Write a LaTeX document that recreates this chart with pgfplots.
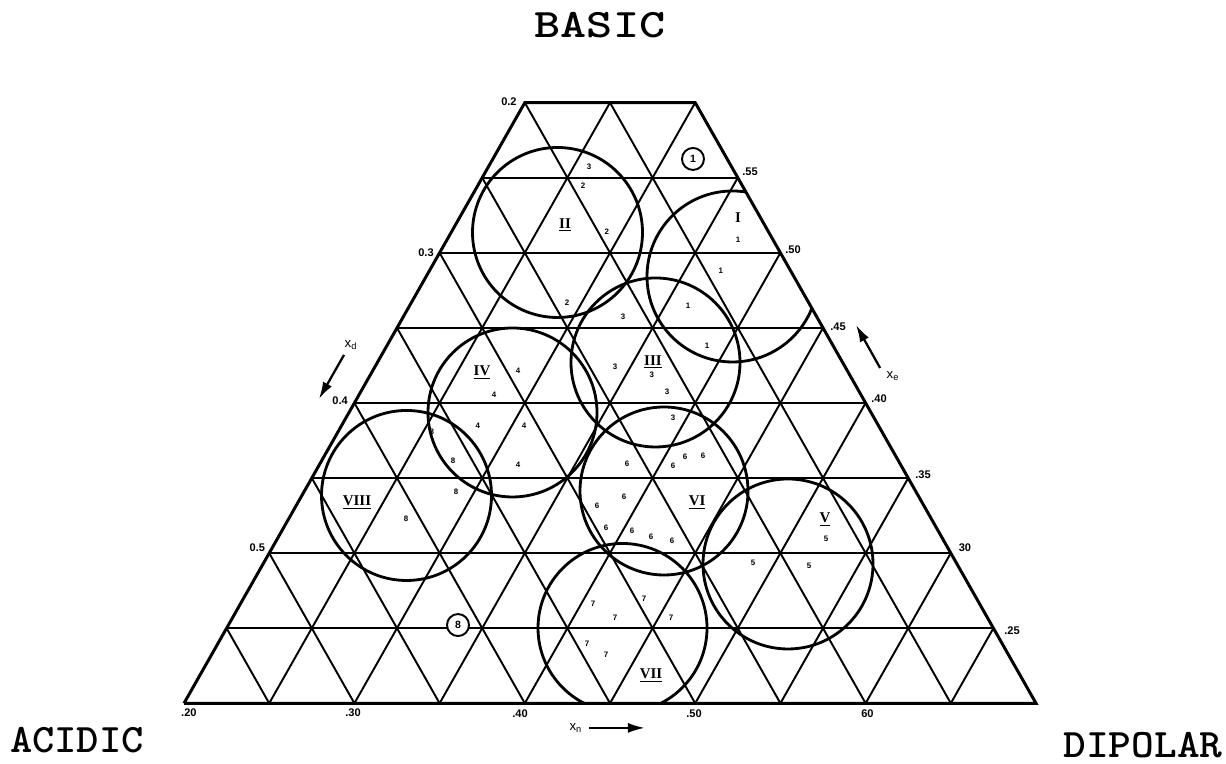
\documentclass[border=0pt]{standalone}
\usepackage{fontspec}
\setmainfont{Liberation Serif}
\newfontfamily\labsans{Liberation Sans}
\usepackage{graphicx}
\usepackage{pgfplots}
\usepackage{pgfplotstable}
\pgfplotsset{compat=1.18}
\usetikzlibrary{arrows.meta}

% solvent points: x_n (horizontal), x_e (row level), selectivity group
\pgfplotstableread{
x y g
0.4377 0.5572 3
0.4342 0.5445 2
0.4482 0.5139 2
0.4248 0.4666 2
0.4576 0.4573 3
0.4529 0.4240 3
0.4746 0.4186 3
0.4835 0.4073 3
0.4870 0.3900 3
0.5251 0.5085 1
0.5151 0.4879 1
0.4958 0.4646 1
0.5069 0.4379 1
0.3960 0.4213 4
0.3819 0.4053 4
0.3725 0.3847 4
0.3995 0.3847 4
0.3960 0.3587 4
0.3455 0.3807 8
0.3579 0.3614 8
0.3596 0.3407 8
0.3303 0.3227 8
0.4600 0.3594 6
0.4870 0.3580 6
0.4940 0.3640 6
0.5046 0.3647 6
0.4582 0.3374 6
0.4424 0.3314 6
0.4477 0.3167 6
0.4629 0.3147 6
0.4741 0.3108 6
0.4864 0.3081 6
0.5768 0.3094 5
0.5339 0.2934 5
0.5668 0.2914 5
0.4700 0.2695 7
0.4400 0.2661 7
0.4529 0.2568 7
0.4858 0.2568 7
0.4365 0.2395 7
0.4477 0.2322 7
}\solvents

\tikzset{
  gridln/.style={black, line width=1.1pt},
  tick/.style={font=\labsans\bfseries\fontsize{6.3}{7}\selectfont, inner sep=0pt},
  roman/.style={font=\rmfamily\bfseries\fontsize{8.5}{9}\selectfont, inner sep=0pt},
  corner/.style={font=\ttfamily\bfseries\fontsize{23}{25}\selectfont, inner sep=0pt},
}

\begin{document}
\begin{tikzpicture}
\begin{axis}[
  scale only axis, width=245.2mm, height=152.8mm,
  xmin=0.09202, xmax=0.81150, ymin=0.159576, ymax=0.668367,
  hide axis, clip=false,
]
\path (rel axis cs:0,0) rectangle (rel axis cs:1,1);

% horizontal rows
\addplot[gridln] coordinates {(0.225,0.25) (0.675,0.25)};
\addplot[gridln] coordinates {(0.250,0.30) (0.650,0.30)};
\addplot[gridln] coordinates {(0.275,0.35) (0.625,0.35)};
\addplot[gridln] coordinates {(0.300,0.40) (0.600,0.40)};
\addplot[gridln] coordinates {(0.325,0.45) (0.575,0.45)};
\addplot[gridln] coordinates {(0.350,0.50) (0.550,0.50)};
\addplot[gridln] coordinates {(0.375,0.55) (0.525,0.55)};
% rising lines
\addplot[gridln] coordinates {(0.25,0.2) (0.450,0.60)};
\addplot[gridln] coordinates {(0.30,0.2) (0.500,0.60)};
\addplot[gridln] coordinates {(0.35,0.2) (0.525,0.55)};
\addplot[gridln] coordinates {(0.40,0.2) (0.550,0.50)};
\addplot[gridln] coordinates {(0.45,0.2) (0.575,0.45)};
\addplot[gridln] coordinates {(0.50,0.2) (0.600,0.40)};
\addplot[gridln] coordinates {(0.55,0.2) (0.625,0.35)};
\addplot[gridln] coordinates {(0.60,0.2) (0.650,0.30)};
\addplot[gridln] coordinates {(0.65,0.2) (0.675,0.25)};
% falling lines
\addplot[gridln] coordinates {(0.25,0.2) (0.225,0.25)};
\addplot[gridln] coordinates {(0.30,0.2) (0.250,0.30)};
\addplot[gridln] coordinates {(0.35,0.2) (0.275,0.35)};
\addplot[gridln] coordinates {(0.40,0.2) (0.300,0.40)};
\addplot[gridln] coordinates {(0.45,0.2) (0.325,0.45)};
\addplot[gridln] coordinates {(0.50,0.2) (0.350,0.50)};
\addplot[gridln] coordinates {(0.55,0.2) (0.375,0.55)};
\addplot[gridln] coordinates {(0.60,0.2) (0.400,0.60)};
\addplot[gridln] coordinates {(0.65,0.2) (0.450,0.60)};

% group regions, cut at the frame
\begin{scope}
\clip (axis cs:0.2,0.2) -- (axis cs:0.7,0.2) -- (axis cs:0.5,0.6) -- (axis cs:0.4,0.6) -- cycle;
\draw[line width=1.6pt] (axis cs:0.52189,0.48423) circle[radius=17.1mm];
\draw[line width=1.6pt] (axis cs:0.41919,0.51353) circle[radius=17mm];
\draw[line width=1.6pt] (axis cs:0.47670,0.42696) circle[radius=16.9mm];
\draw[line width=1.6pt] (axis cs:0.39278,0.39366) circle[radius=16.9mm];
\draw[line width=1.6pt] (axis cs:0.55446,0.29277) circle[radius=17mm];
\draw[line width=1.6pt] (axis cs:0.48169,0.34138) circle[radius=16.8mm];
\draw[line width=1.6pt] (axis cs:0.45734,0.25015) circle[radius=16.9mm];
\draw[line width=1.6pt] (axis cs:0.33058,0.33839) circle[radius=17mm];
\end{scope}

% frame
\addplot[black, line width=1.7pt] coordinates {(0.2,0.2) (0.7,0.2) (0.5,0.6) (0.4,0.6) (0.2,0.2)};

% solvents
\addplot[only marks, mark=none, nodes near coords, point meta=explicit symbolic,
  nodes near coords style={font=\labsans\bfseries\fontsize{4.5}{5}\selectfont, anchor=center, inner sep=0pt}]
  table[x=x, y=y, meta=g] {\solvents};

% group numerals
\node[roman] at (axis cs:0.5251,0.5232) {I};
\node[roman] at (axis cs:0.4236,0.5185) {\underline{II}};
\node[roman] at (axis cs:0.4752,0.4273) {\underline{III}};
\node[roman] at (axis cs:0.3749,0.4200) {\underline{IV}};
\node[roman] at (axis cs:0.5762,0.3221) {\underline{V}};
\node[roman] at (axis cs:0.5011,0.3334) {\underline{VI}};
\node[roman] at (axis cs:0.4741,0.2182) {\underline{VII}};
\node[roman] at (axis cs:0.3015,0.3334) {\underline{VIII}};

% circled reference solvents
\node[draw, circle, line width=1.1pt, minimum size=4.4mm, inner sep=0pt, fill=white,
  font=\labsans\bfseries\fontsize{6}{7}\selectfont] at (axis cs:0.4987,0.5625) {1};
\node[draw, circle, line width=1.1pt, minimum size=4.4mm, inner sep=0pt, fill=white,
  font=\labsans\bfseries\fontsize{6}{7}\selectfont] at (axis cs:0.3608,0.2521) {8};

% edge scales
\node[tick] at (axis cs:0.3907,0.6004) {0.2};
\node[tick] at (axis cs:0.3420,0.4999) {0.3};
\node[tick] at (axis cs:0.2916,0.4013) {0.4};
\node[tick] at (axis cs:0.2431,0.3034) {0.5};
\node[tick] at (axis cs:0.5322,0.5538) {.55};
\node[tick] at (axis cs:0.5574,0.5019) {.50};
\node[tick] at (axis cs:0.5838,0.4506) {.45};
\node[tick] at (axis cs:0.6079,0.4027) {.40};
\node[tick] at (axis cs:0.6337,0.3520) {.35};
\node[tick] at (axis cs:0.6583,0.3034) {30};
\node[tick] at (axis cs:0.6859,0.2481) {.25};
\node[tick] at (axis cs:0.2029,0.1935) {.20};
\node[tick] at (axis cs:0.2992,0.1935) {.30};
\node[tick] at (axis cs:0.3972,0.1929) {.40};
\node[tick] at (axis cs:0.4993,0.1929) {.50};
\node[tick] at (axis cs:0.6011,0.1929) {60};

% component directions
\node[tick, font=\labsans\fontsize{7.5}{8}\selectfont] at (axis cs:0.2980,0.4386) {x\textsubscript{d}};
\draw[-{Latex[length=3.4mm,width=2mm]}, line width=1.3pt] (axis cs:0.2939,0.4320) -- (axis cs:0.2792,0.4027);
\node[tick, font=\labsans\fontsize{7.5}{8}\selectfont] at (axis cs:0.6161,0.4180) {x\textsubscript{e}};
\draw[-{Latex[length=3.4mm,width=2mm]}, line width=1.3pt] (axis cs:0.6085,0.4233) -- (axis cs:0.5944,0.4519);
\node[tick, font=\labsans\fontsize{7.5}{8}\selectfont] at (axis cs:0.4300,0.1836) {x\textsubscript{n}};
\draw[-{Latex[length=3.4mm,width=2mm]}, line width=1.3pt] (axis cs:0.4377,0.1836) -- (axis cs:0.4705,0.1836);

% corner names
\node[corner] at (axis cs:0.4441,0.6517) {\scalebox{1.23}[1]{BASIC}};
\node[corner] at (axis cs:0.1372,0.1756) {\scalebox{1.05}[1]{ACIDIC}};
\node[corner] at (axis cs:0.7628,0.1722) {\scalebox{1.07}[1]{DIPOLAR}};
\end{axis}
\end{tikzpicture}
\end{document}
